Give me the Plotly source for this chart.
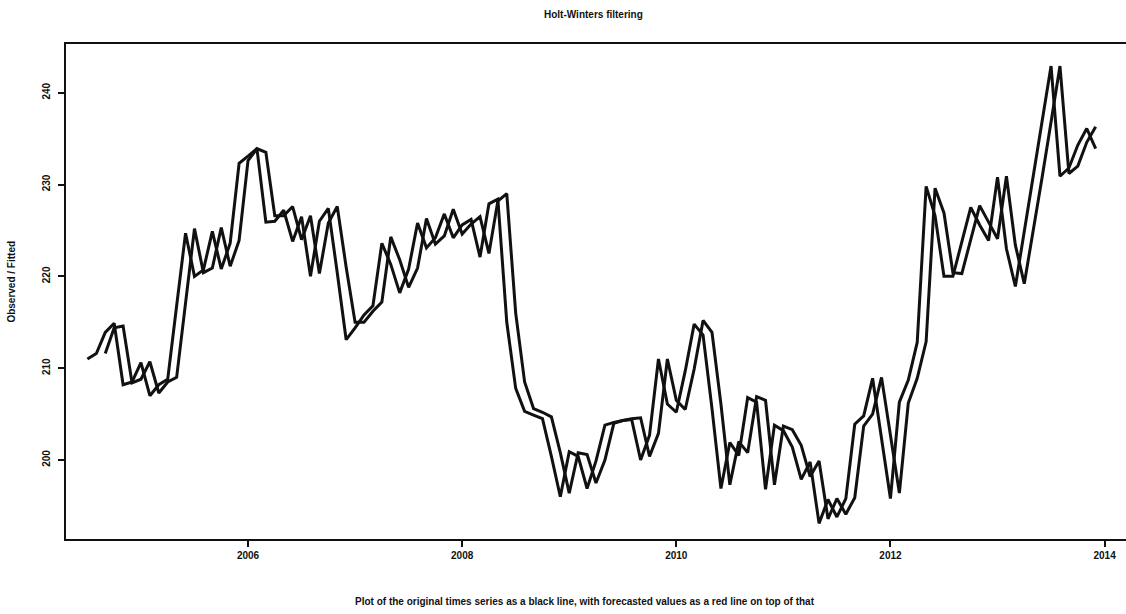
import plotly.graph_objects as go

start_year = 2004
start_month = 7  # July 2004, monthly series

observed = [
    211.0, 211.6, 213.9, 214.9, 208.2, 208.5, 210.6, 207.0, 208.2, 208.8,
    216.8, 224.7, 220.0, 220.7, 224.9, 220.8, 223.6, 232.3, 233.1, 233.9,
    225.9, 226.0, 227.2, 223.8, 226.5, 220.0, 226.0, 227.4, 220.4, 213.1,
    214.4, 215.8, 216.8, 223.6, 221.3, 218.2, 220.8, 225.8, 223.1, 224.2,
    226.8, 224.2, 225.6, 226.2, 222.1, 227.9, 228.4, 215.0, 207.8, 205.3,
    204.9, 204.5, 200.4, 196.0, 200.9, 200.4, 196.9, 199.9, 203.8, 204.1,
    204.3, 204.4, 200.0, 202.7, 211.0, 206.1, 205.2, 209.7, 214.8, 213.6,
    205.6, 196.9, 201.9, 200.5, 206.8, 206.3, 196.8, 203.8, 203.2, 201.4,
    197.9, 199.8, 193.1, 195.7, 193.8, 195.8, 203.9, 204.8, 208.9, 202.2,
    195.8, 206.3, 208.7, 212.8, 229.8, 226.6, 220.0, 220.0, 223.9, 227.5,
    225.6, 223.9, 230.8, 223.0, 218.9, 224.9, 230.9, 236.9, 242.9, 230.9,
    231.8, 234.3, 236.1, 233.9,
]

# fitted values start at the third month
fitted = [
    211.6, 214.4, 214.6, 208.4, 208.8, 210.7, 207.3, 208.5, 209.0,
    216.9, 225.2, 220.4, 220.9, 225.3, 221.1, 223.9, 232.6, 233.9, 233.5,
    226.6, 226.6, 227.6, 224.0, 226.6, 220.3, 225.8, 227.6, 221.0, 215.0,
    215.0, 216.2, 217.2, 224.3, 221.8, 218.8, 220.9, 226.3, 223.5, 224.4,
    227.3, 224.6, 225.7, 226.5, 222.5, 228.2, 229.0, 216.0, 208.5, 205.6,
    205.2, 204.7, 200.8, 196.4, 200.8, 200.6, 197.5, 200.0, 204.0, 204.3,
    204.5, 204.6, 200.4, 202.9, 211.0, 206.5, 205.5, 209.9, 215.2, 213.9,
    206.1, 197.3, 202.0, 200.8, 206.9, 206.5, 197.3, 203.7, 203.3, 201.6,
    198.2, 199.9, 193.6, 195.8, 194.1, 195.9, 203.7, 205.0, 209.0, 202.6,
    196.4, 206.2, 208.9, 212.9, 229.6, 226.9, 220.4, 220.3, 224.1, 227.7,
    225.9, 224.1, 230.9, 223.4, 219.2, 224.9, 230.8, 236.8, 242.9, 231.2,
    232.0, 234.6, 236.3,
]

x_ticks = [2006, 2008, 2010, 2012, 2014]
y_ticks = [200, 210, 220, 230, 240]

title_text = "Holt-Winters filtering"
x_title = ("Plot of the original times series as a black line, with forecasted "
           "values as a red line on top of that")
y_title = "Observed / Fitted"

t_obs = [start_year + (start_month - 1 + i) / 12 for i in range(len(observed))]
t_fit = t_obs[len(observed) - len(fitted):]

fig = go.Figure()
fig.add_trace(go.Scatter(x=t_obs, y=observed, mode="lines",
                         line=dict(color="#111111", width=3), name="observed"))
fig.add_trace(go.Scatter(x=t_fit, y=fitted, mode="lines",
                         line=dict(color="#111111", width=3), name="fitted"))

font_family = "Liberation Sans, Arial, sans-serif"

fig.update_layout(
    width=1126, height=614,
    margin=dict(l=66, r=0, t=44, b=75),
    paper_bgcolor="white", plot_bgcolor="white",
    showlegend=False,
    title=dict(text="<b>" + title_text + "</b>", x=0.527, xanchor="center",
               y=1 - 14 / 614, yanchor="middle",
               font=dict(family=font_family, size=10, color="#111111")),
    xaxis=dict(range=[2004.3, 2014.2], tickvals=x_ticks,
               ticktext=[str(v) for v in x_ticks], automargin=False,
               showgrid=False, zeroline=False,
               showline=True, linecolor="#111111", linewidth=2, mirror=True,
               ticks="outside", ticklen=6, tickwidth=1.5, tickcolor="#111111",
               tickfont=dict(family=font_family, size=10, color="#111111", weight="bold")),
    yaxis=dict(range=[191.4, 245.3], tickvals=y_ticks,
               ticktext=[str(v) for v in y_ticks], tickangle=-90, automargin=False,
               showgrid=False, zeroline=False, ticklabelstandoff=4,
               showline=True, linecolor="#111111", linewidth=2, mirror=False,
               ticks="outside", ticklen=6, tickwidth=1.5, tickcolor="#111111",
               tickfont=dict(family=font_family, size=10, color="#111111", weight="bold")),
)

fig.add_annotation(text="<b>" + x_title + "</b>", xref="paper", yref="paper",
                   x=0.49, y=-(601 - 539) / 495, xanchor="center", yanchor="middle",
                   showarrow=False,
                   font=dict(family=font_family, size=10, color="#111111"))
fig.add_annotation(text="<b>" + y_title + "</b>", xref="paper", yref="paper",
                   x=-(66 - 12) / 1060, y=0.52, xanchor="center", yanchor="middle",
                   textangle=-90, showarrow=False,
                   font=dict(family=font_family, size=10, color="#111111"))

fig.write_html("out.html",
               config={"displayModeBar": False},
               post_script="document.body.style.margin='0';document.body.style.overflow='hidden';")
